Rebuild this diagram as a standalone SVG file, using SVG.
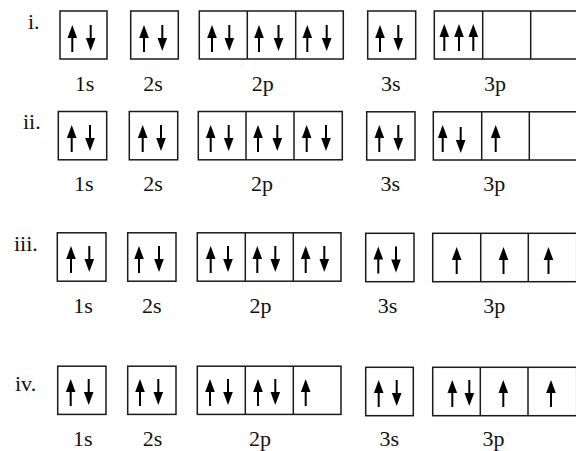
<svg xmlns="http://www.w3.org/2000/svg" xmlns:xlink="http://www.w3.org/1999/xlink" width="576" height="451" viewBox="0 0 576 451">
<style>
.box{fill:none;stroke:#1a1a1a;stroke-width:1.5}
.lbl{font-family:"Liberation Serif","Times New Roman",serif;font-size:22px;fill:#111;text-anchor:middle}
.num{font-family:"Liberation Serif","Times New Roman",serif;font-size:22px;fill:#111}
.arr{fill:#000}
</style>
<defs>
<g id="up" class="arr"><path d="M0,0 L4.8,13 L-4.8,13 Z"/><rect x="-1" y="11" width="2" height="16"/></g>
<g id="dn" class="arr"><path d="M0,26 L4.8,13 L-4.8,13 Z"/><rect x="-1" y="0" width="2" height="15"/></g>
</defs>
<rect width="576" height="451" fill="#fff"/>

<g id="row-i">
<text class="num" x="28" y="29">i.</text>
<g id="i-1s"><rect class="box" x="60" y="11" width="47" height="48"/><use xlink:href="#up" x="72.3" y="25"/><use xlink:href="#dn" x="90.7" y="25"/></g>
<g id="i-2s"><rect class="box" x="130.7" y="11" width="47.6" height="48"/><use xlink:href="#up" x="144" y="25"/><use xlink:href="#dn" x="162.3" y="25"/></g>
<g id="i-2p"><rect class="box" x="199.3" y="11" width="144" height="48"/><line class="box" x1="247.3" y1="11" x2="247.3" y2="59"/><line class="box" x1="295.7" y1="11" x2="295.7" y2="59"/>
<use xlink:href="#up" x="212" y="25"/><use xlink:href="#dn" x="229.3" y="25"/><use xlink:href="#up" x="259" y="25"/><use xlink:href="#dn" x="278.5" y="25"/><use xlink:href="#up" x="307.3" y="25"/><use xlink:href="#dn" x="326.7" y="25"/></g>
<g id="i-3s"><rect class="box" x="367.7" y="11" width="48" height="48"/><use xlink:href="#up" x="380" y="25"/><use xlink:href="#dn" x="398.3" y="25"/></g>
<g id="i-3p"><rect class="box" x="434.3" y="11" width="145" height="48"/><line class="box" x1="482.7" y1="11" x2="482.7" y2="59"/><line class="box" x1="530.7" y1="11" x2="530.7" y2="59"/>
<use xlink:href="#up" x="444.3" y="24"/><use xlink:href="#up" x="459" y="24"/><use xlink:href="#up" x="473.3" y="24"/></g>
<text class="lbl" x="84.5" y="90.7">1s</text><text class="lbl" x="153" y="90.7">2s</text><text class="lbl" x="262.8" y="90.7">2p</text><text class="lbl" x="390.8" y="90.7">3s</text><text class="lbl" x="495" y="90.7">3p</text>
</g>

<g id="row-ii">
<text class="num" x="23" y="129">ii.</text>
<g id="ii-1s"><rect class="box" x="58.3" y="111.5" width="48.4" height="48.3"/><use xlink:href="#up" x="71.7" y="125"/><use xlink:href="#dn" x="90" y="125"/></g>
<g id="ii-2s"><rect class="box" x="129.3" y="111.5" width="48.4" height="48.3"/><use xlink:href="#up" x="142.7" y="125"/><use xlink:href="#dn" x="161" y="125"/></g>
<g id="ii-2p"><rect class="box" x="198.3" y="111.5" width="144" height="48.3"/><line class="box" x1="246" y1="111.5" x2="246" y2="159.8"/><line class="box" x1="294" y1="111.5" x2="294" y2="159.8"/>
<use xlink:href="#up" x="210.7" y="125"/><use xlink:href="#dn" x="228.7" y="125"/><use xlink:href="#up" x="258" y="125"/><use xlink:href="#dn" x="277.3" y="125"/><use xlink:href="#up" x="306.7" y="125"/><use xlink:href="#dn" x="326" y="125"/></g>
<g id="ii-3s"><rect class="box" x="366.7" y="111.8" width="48.3" height="48.2"/><use xlink:href="#up" x="379.3" y="125"/><use xlink:href="#dn" x="398.3" y="125"/></g>
<g id="ii-3p"><rect class="box" x="433.3" y="111.8" width="145" height="48.2"/><line class="box" x1="481.7" y1="111.8" x2="481.7" y2="160"/><line class="box" x1="529.3" y1="111.8" x2="529.3" y2="160"/>
<use xlink:href="#up" x="442.7" y="125"/><use xlink:href="#dn" x="460.7" y="127"/><use xlink:href="#up" x="495.7" y="125"/></g>
<text class="lbl" x="83.7" y="190.7">1s</text><text class="lbl" x="153" y="190.7">2s</text><text class="lbl" x="262" y="190.7">2p</text><text class="lbl" x="390.2" y="190.7">3s</text><text class="lbl" x="494.3" y="190.7">3p</text>
</g>

<g id="row-iii">
<text class="num" x="14" y="250.7">iii.</text>
<g id="iii-1s"><rect class="box" x="57.3" y="232.8" width="48.7" height="48.4"/><use xlink:href="#up" x="71" y="246"/><use xlink:href="#dn" x="89.3" y="246"/></g>
<g id="iii-2s"><rect class="box" x="127.7" y="232.8" width="48.3" height="48.4"/><use xlink:href="#up" x="139" y="246"/><use xlink:href="#dn" x="159" y="246"/></g>
<g id="iii-2p"><rect class="box" x="197.3" y="232.8" width="143.7" height="48.4"/><line class="box" x1="245.3" y1="232.8" x2="245.3" y2="281.2"/><line class="box" x1="293.3" y1="232.8" x2="293.3" y2="281.2"/>
<use xlink:href="#up" x="210.7" y="246"/><use xlink:href="#dn" x="228" y="246"/><use xlink:href="#up" x="257.3" y="246"/><use xlink:href="#dn" x="275.3" y="246"/><use xlink:href="#up" x="305.7" y="246"/><use xlink:href="#dn" x="324.3" y="246"/></g>
<g id="iii-3s"><rect class="box" x="365.7" y="233.3" width="48.3" height="48.4"/><use xlink:href="#up" x="378.3" y="246.5"/><use xlink:href="#dn" x="396" y="246.5"/></g>
<g id="iii-3p"><rect class="box" x="432.7" y="233.3" width="144" height="48.4"/><line class="box" x1="480.7" y1="233.3" x2="480.7" y2="281.7"/><line class="box" x1="528.3" y1="233.3" x2="528.3" y2="281.7"/>
<use xlink:href="#up" x="456.7" y="247"/><use xlink:href="#up" x="503.5" y="247"/><use xlink:href="#up" x="548.5" y="247"/></g>
<text class="lbl" x="83" y="312.7">1s</text><text class="lbl" x="151.7" y="312.7">2s</text><text class="lbl" x="260.5" y="312.7">2p</text><text class="lbl" x="387.5" y="312.7">3s</text><text class="lbl" x="494.3" y="312.7">3p</text>
</g>

<g id="row-iv">
<text class="num" x="15" y="390.7">iv.</text>
<g id="iv-1s"><rect class="box" x="57.7" y="366.2" width="48.3" height="48.2"/><use xlink:href="#up" x="70.7" y="379"/><use xlink:href="#dn" x="88.7" y="379"/></g>
<g id="iv-2s"><rect class="box" x="127.7" y="366.2" width="48.3" height="48.2"/><use xlink:href="#up" x="140" y="379"/><use xlink:href="#dn" x="158.3" y="379"/></g>
<g id="iv-2p"><rect class="box" x="197.3" y="366.2" width="143.7" height="48.2"/><line class="box" x1="245.3" y1="366.2" x2="245.3" y2="414.4"/><line class="box" x1="293.3" y1="366.2" x2="293.3" y2="414.4"/>
<use xlink:href="#up" x="210" y="379"/><use xlink:href="#dn" x="228" y="379"/><use xlink:href="#up" x="258" y="379"/><use xlink:href="#dn" x="275.3" y="379"/><use xlink:href="#up" x="305.7" y="379"/></g>
<g id="iv-3s"><rect class="box" x="365.7" y="367.3" width="47.6" height="48.4"/><use xlink:href="#up" x="378.7" y="380"/><use xlink:href="#dn" x="396.7" y="380"/></g>
<g id="iv-3p"><rect class="box" x="432.7" y="367.3" width="144" height="48.4"/><line class="box" x1="480.3" y1="367.3" x2="480.3" y2="415.7"/><line class="box" x1="528" y1="367.3" x2="528" y2="415.7"/>
<use xlink:href="#up" x="452.3" y="380"/><use xlink:href="#dn" x="469.3" y="380"/><use xlink:href="#up" x="503.3" y="380"/><use xlink:href="#up" x="551" y="380"/></g>
<text class="lbl" x="82.7" y="446">1s</text><text class="lbl" x="152.6" y="446">2s</text><text class="lbl" x="260" y="446">2p</text><text class="lbl" x="389.3" y="446">3s</text><text class="lbl" x="493.6" y="446">3p</text>
</g>
</svg>
